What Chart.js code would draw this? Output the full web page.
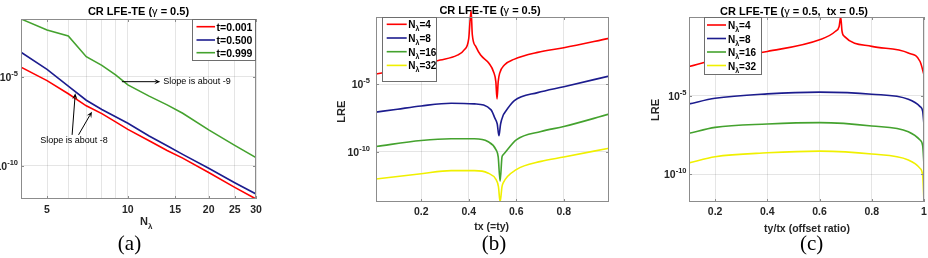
<!DOCTYPE html>
<html><head><meta charset="utf-8">
<script src="https://cdn.jsdelivr.net/npm/chart.js@4/dist/chart.umd.min.js"></script>
<style>
html,body{margin:0;padding:0;background:#fff;width:928px;height:258px;overflow:hidden}
canvas{position:absolute;top:0}
</style></head><body>
<canvas id="ca" width="310" height="258" style="left:0px"></canvas>
<canvas id="cb" width="310" height="258" style="left:310px"></canvas>
<canvas id="cc" width="310" height="258" style="left:618px"></canvas>
<script>
// ---------------- DATA ----------------
// Panel (a): LRE vs N_lambda (log-log)
const A_N    = [4, 5, 6, 7, 8, 9, 10, 12, 14, 16, 20, 25, 30];
const A_T001 = [3.39e-5, 6.03e-6, 1.10e-6, 2.34e-7, 8.51e-8, 2.95e-8, 1.12e-8, 2.57e-9, 7.41e-10, 2.75e-10, 4.27e-11, 6.31e-12, 1.41e-12];
const A_T500 = [2.34e-4, 2.57e-5, 2.95e-6, 4.79e-7, 1.45e-7, 5.75e-8, 2.45e-8, 4.79e-9, 1.35e-9, 4.47e-10, 7.41e-11, 1.15e-11, 2.69e-12];
const A_T999 = [1.70e-2, 4.07e-3, 1.91e-3, 1.32e-4, 4.27e-5, 1.26e-5, 3.47e-6, 8.13e-7, 2.63e-7, 8.91e-8, 1.05e-8, 1.41e-9, 2.95e-10];
const A_LABELS = ['t=0.001', 't=0.500', 't=0.999'];
const A_XTICKS = [5, 10, 15, 20, 25, 30];
const A_XGRID  = [5, 6, 7, 8, 9, 10, 15, 20, 25, 30];

// Panel (b): LRE vs tx (=ty)
const B_X4  = [0.01, 0.14, 0.28, 0.35, 0.38, 0.40, 0.41, 0.415, 0.43, 0.45, 0.485, 0.505, 0.514, 0.519, 0.524, 0.53, 0.55, 0.59, 0.69, 0.80, 0.99];
const B_N4  = [5.75e-5, 1.55e-4, 6.31e-4, 1.41e-3, 3.47e-3, 2.51e-2, 3.16, 5.01e-2, 6.31e-3, 1.48e-3, 3.63e-4, 7.94e-5, 1.58e-5, 8.13e-7, 1.58e-5, 6.46e-5, 2.69e-4, 7.08e-4, 2.34e-3, 5.13e-3, 2.57e-2];
const B_X8  = [0.01, 0.1, 0.2, 0.326, 0.424, 0.494, 0.51, 0.52, 0.527, 0.534, 0.545, 0.55, 0.592, 0.69, 0.80, 0.99];
const B_N8  = [8.51e-8, 1.41e-7, 2.45e-7, 3.89e-7, 3.47e-7, 1.26e-7, 3.02e-8, 1.12e-8, 1.48e-9, 1.12e-8, 5.01e-8, 7.08e-8, 6.03e-7, 2.40e-6, 6.61e-6, 4.07e-5];
const B_X16 = [0.01, 0.2, 0.326, 0.424, 0.48, 0.515, 0.524, 0.532, 0.54, 0.545, 0.6, 0.704, 0.8, 0.99];
const B_N16 = [2.40e-10, 6.61e-10, 8.91e-10, 8.91e-10, 5.62e-10, 1.35e-10, 3.98e-11, 6.31e-13, 3.98e-11, 5.75e-11, 7.41e-10, 3.09e-9, 7.24e-9, 6.03e-8];
const B_X32 = [0.01, 0.2, 0.326, 0.424, 0.48, 0.515, 0.525, 0.532, 0.54, 0.545, 0.6, 0.704, 0.8, 0.99];
const B_N32 = [9.12e-13, 2.24e-12, 3.80e-12, 3.80e-12, 2.57e-12, 8.13e-13, 2.51e-13, 1.78e-14, 2.51e-13, 4.68e-13, 4.47e-12, 1.86e-11, 3.89e-11, 1.78e-10];
const B_XTICKS = [0.2, 0.4, 0.6, 0.8];

// Panel (c): LRE vs ty/tx
const C_X4  = [0.1, 0.2, 0.4, 0.6, 0.66, 0.675, 0.681, 0.686, 0.695, 0.8, 0.94, 0.985, 1.0];
const C_N4  = [7.08e-4, 1.91e-3, 6.46e-3, 3.55e-2, 0.120, 0.251, 1.0, 0.126, 5.89e-2, 1.35e-2, 5.13e-3, 1.48e-3, 2.09e-4];
const C_X   = [0.1, 0.2, 0.4, 0.6, 0.8, 0.94, 0.985, 0.995, 1.0];
const C_N8  = [2.95e-6, 6.76e-6, 1.29e-5, 1.66e-5, 1.23e-5, 5.89e-6, 2.00e-6, 1.0e-6, 1.35e-7];
const C_N16 = [3.98e-8, 9.55e-8, 1.55e-7, 1.91e-7, 1.17e-7, 5.01e-8, 1.48e-8, 6.31e-9, 3.80e-10];
const C_N32 = [5.25e-10, 1.29e-9, 2.29e-9, 2.95e-9, 1.91e-9, 7.94e-10, 2.34e-10, 7.94e-11, 1.70e-12];
const C_XTICKS = [0.2, 0.4, 0.6, 0.8, 1];

const N_LABELS = ['4', '8', '16', '32'];
const Y_TICKS = [1e-10, 1e-5];

// ---------------- STYLE ----------------
const FONT = '"Liberation Sans", Arial, sans-serif';
const SERIF = '"Liberation Serif", "Times New Roman", serif';
const RED = '#ff0000', BLUE = '#1c1c8e', GREEN = '#44a22e', YELLOW = '#f0f000';
const AXIS_COL = '#8c8c8c';
const GRID_COL = 'rgba(0,0,0,0.10)';
const LW = 1.6;

function pts(xs, ys) { return xs.map((x, i) => ({x: x, y: ys[i]})); }

function rich(ctx, parts, x, y, align) {
  let w = 0;
  parts.forEach(p => { ctx.font = (p.bold ? 'bold ' : '') + p.size + 'px ' + FONT; p.w = ctx.measureText(p.t).width; w += p.w; });
  let cx = align === 'right' ? x - w : (align === 'center' ? x - w / 2 : x);
  ctx.textAlign = 'left'; ctx.textBaseline = 'alphabetic';
  parts.forEach(p => { ctx.font = (p.bold ? 'bold ' : '') + p.size + 'px ' + FONT; ctx.fillText(p.t, cx, y + (p.dy || 0)); cx += p.w; });
}

function arrow(ctx, x1, y1, x2, y2) {
  const ang = Math.atan2(y2 - y1, x2 - x1), L = 6, W = 2.6;
  ctx.beginPath(); ctx.moveTo(x1, y1); ctx.lineTo(x2 - L * 0.7 * Math.cos(ang), y2 - L * 0.7 * Math.sin(ang)); ctx.stroke();
  ctx.beginPath();
  ctx.moveTo(x2, y2);
  ctx.lineTo(x2 - L * Math.cos(ang) + W * Math.sin(ang), y2 - L * Math.sin(ang) - W * Math.cos(ang));
  ctx.lineTo(x2 - L * 0.6 * Math.cos(ang), y2 - L * 0.6 * Math.sin(ang));
  ctx.lineTo(x2 - L * Math.cos(ang) - W * Math.sin(ang), y2 - L * Math.sin(ang) + W * Math.cos(ang));
  ctx.closePath(); ctx.fill();
}

function decoPlugin(P) {
  return {
    id: 'deco',
    afterDraw(chart) {
      const ctx = chart.ctx, a = chart.chartArea, xs = chart.scales.x, ys = chart.scales.y;
      ctx.save();
      ctx.strokeStyle = AXIS_COL; ctx.lineWidth = 1;
      ctx.strokeRect(a.left + 0.5, a.top + 0.5, a.right - a.left - 1, a.bottom - a.top - 1);
      ctx.beginPath();
      P.xticks.forEach(v => { const px = Math.round(xs.getPixelForValue(v)) + 0.5;
        ctx.moveTo(px, a.bottom); ctx.lineTo(px, a.bottom - 3); ctx.moveTo(px, a.top); ctx.lineTo(px, a.top + 3); });
      Y_TICKS.forEach(v => { const py = Math.round(ys.getPixelForValue(v)) + 0.5;
        ctx.moveTo(a.left, py); ctx.lineTo(a.left + 3, py); ctx.moveTo(a.right, py); ctx.lineTo(a.right - 3, py); });
      ctx.stroke();
      ctx.fillStyle = '#262626';
      Y_TICKS.forEach(v => {
        const py = ys.getPixelForValue(v);
        const e = String(Math.round(Math.log10(v)));
        rich(ctx, [{t: '10', size: 10.5, bold: true, dy: 0}, {t: e, size: 7.5, bold: true, dy: -5}], P.ytickRight, py + 4, 'right');
      });
      ctx.textAlign = 'center'; ctx.textBaseline = 'middle';
      ctx.font = 'bold 10.5px ' + FONT;
      P.xticks.forEach(v => ctx.fillText(String(v), xs.getPixelForValue(v), a.bottom + P.xtickDy));
      if (P.xtitleParts) rich(ctx, P.xtitleParts, P.xtitle[0], P.xtitle[1], P.xtitle[2]);
      if (P.ytitle) {
        ctx.save(); ctx.translate(P.ytitle[0], P.ytitle[1]); ctx.rotate(-Math.PI / 2);
        ctx.font = 'bold 11px ' + FONT; ctx.textAlign = 'center'; ctx.textBaseline = 'middle';
        ctx.fillText('LRE', 0, 0); ctx.restore();
      }
      ctx.fillStyle = '#000';
      rich(ctx, [{t: 'CR LFE-TE (', size: 11, bold: true}, {t: 'γ', size: 11, bold: false}, {t: P.titleTail, size: 11, bold: true}], P.title[0], P.title[1], 'center');
      ctx.font = '21px ' + SERIF; ctx.textAlign = 'center'; ctx.textBaseline = 'middle';
      ctx.fillText(P.caption, P.cap[0], P.cap[1]);
      const L = P.legend;
      ctx.fillStyle = '#fff'; ctx.fillRect(L.x, L.y, L.w, L.h);
      ctx.strokeStyle = '#6e6e6e'; ctx.lineWidth = 1;
      ctx.strokeRect(L.x + 0.5, L.y + 0.5, L.w - 1, L.h - 1);
      chart.data.datasets.forEach((ds, i) => {
        const ry = L.rows[i];
        ctx.strokeStyle = ds.borderColor; ctx.lineWidth = LW;
        ctx.beginPath(); ctx.moveTo(L.lx0, ry); ctx.lineTo(L.lx1, ry); ctx.stroke();
        ctx.fillStyle = '#000';
        rich(ctx, L.parts(i), L.tx, ry + 4, 'left');
      });
      if (P.extra) P.extra(ctx, xs, ys);
      ctx.restore();
    }
  };
}

function makeChart(id, P) {
  return new Chart(document.getElementById(id), {
    type: 'line',
    data: {datasets: P.datasets.map(d => ({
      label: d.label, data: d.data, borderColor: d.color, backgroundColor: d.color,
      borderWidth: LW, pointRadius: 0, tension: 0, fill: false,
      cubicInterpolationMode: P.smooth ? 'monotone' : 'default',
      clip: d.clip === undefined ? true : d.clip
    }))},
    options: {
      responsive: false, animation: false, devicePixelRatio: 1,
      layout: {padding: P.padding},
      plugins: {legend: {display: false}, title: {display: false}, tooltip: {enabled: false}},
      scales: {
        x: {type: P.xtype, min: P.xmin, max: P.xmax,
            afterBuildTicks: s => { s.ticks = P.xgrid.map(v => ({value: v})); },
            ticks: {display: false}, grid: {color: GRID_COL, drawTicks: false}, border: {display: false}},
        y: {type: 'logarithmic', min: P.ymin, max: P.ymax,
            afterBuildTicks: s => { s.ticks = Y_TICKS.map(v => ({value: v})); },
            ticks: {display: false}, grid: {color: GRID_COL, drawTicks: false}, border: {display: false}}
      }
    },
    plugins: [decoPlugin(P)]
  });
}

const nParts = i => [{t: 'N', size: 10, bold: true}, {t: 'λ', size: 7, bold: true, dy: 3}, {t: '=' + N_LABELS[i], size: 10, bold: true}];

// Panel (a)
makeChart('ca', {
  xtype: 'logarithmic', xmin: 4, xmax: 30, ymin: 1.41e-12, ymax: 1.70e-2, smooth: false,
  xgrid: A_XGRID, xticks: A_XTICKS,
  padding: {left: 21, top: 19, right: 54, bottom: 59},
  datasets: [
    {label: A_LABELS[0], data: pts(A_N, A_T001), color: RED},
    {label: A_LABELS[1], data: pts(A_N, A_T500), color: BLUE},
    {label: A_LABELS[2], data: pts(A_N, A_T999), color: GREEN}
  ],
  ytickRight: 18, xtickDy: 11,
  xtitleParts: [{t: 'N', size: 11, bold: true}, {t: 'λ', size: 8, bold: true, dy: 4}], xtitle: [140, 225, 'left'],
  ytitle: null,
  title: [138.5, 15], titleTail: ' = 0.5)',
  caption: '(a)', cap: [129.5, 244],
  legend: {x: 192, y: 19, w: 64, h: 42, rows: [26.7, 40, 52.7], lx0: 196.5, lx1: 215, tx: 216.5,
           parts: i => [{t: A_LABELS[i], size: 10.5, bold: true}]},
  extra: (ctx, xs, ys) => {
    ctx.strokeStyle = '#000'; ctx.fillStyle = '#000'; ctx.lineWidth = 1;
    const P = (n, v) => [xs.getPixelForValue(n), ys.getPixelForValue(v)];
    let p1 = P(9.5, 5.25e-6), p2 = P(13.2, 5.25e-6);
    arrow(ctx, p1[0], p1[1], p2[0], p2[1]);
    ctx.font = '9px ' + FONT; ctx.textAlign = 'left'; ctx.textBaseline = 'middle';
    ctx.fillText('Slope is about -9', p2[0] + 3, p2[1]);
    let q1 = P(6.2, 5.5e-9), q2 = P(6.37, 1.17e-6);
    arrow(ctx, q1[0], q1[1], q2[0], q2[1]);
    let r1 = P(6.55, 5.5e-9), r2 = P(7.35, 1.1e-7);
    arrow(ctx, r1[0], r1[1], r2[0], r2[1]);
    const t = P(6.3, 2.5e-9);
    ctx.textAlign = 'center';
    ctx.fillText('Slope is about -8', t[0], t[1]);
  }
});

// Panel (b)
makeChart('cb', {
  xtype: 'linear', xmin: 0.01, xmax: 0.99, ymin: 1.78e-14, ymax: 1.0, smooth: true,
  xgrid: B_XTICKS, xticks: B_XTICKS,
  padding: {left: 66, top: 17, right: 11, bottom: 56},
  datasets: [
    {label: 'N4', data: pts(B_X4, B_N4), color: RED, clip: false},
    {label: 'N8', data: pts(B_X8, B_N8), color: BLUE},
    {label: 'N16', data: pts(B_X16, B_N16), color: GREEN},
    {label: 'N32', data: pts(B_X32, B_N32), color: YELLOW}
  ],
  ytickRight: 60, xtickDy: 10.5,
  xtitleParts: [{t: 'tx (=ty)', size: 10.5, bold: true}], xtitle: [181.7, 230, 'center'],
  ytitle: [31.7, 111.7],
  title: [180, 14], titleTail: ' = 0.5)',
  caption: '(b)', cap: [184, 244],
  legend: {x: 72, y: 17, w: 55, h: 65, rows: [24.3, 38, 51.7, 65.4], lx0: 76.7, lx1: 96.7, tx: 98.3, parts: nParts}
});

// Panel (c)
makeChart('cc', {
  xtype: 'linear', xmin: 0.1, xmax: 1.0, ymin: 1.70e-12, ymax: 1.0, smooth: true,
  xgrid: C_XTICKS, xticks: C_XTICKS,
  padding: {left: 71, top: 17, right: 4, bottom: 56},
  datasets: [
    {label: 'N4', data: pts(C_X4, C_N4), color: RED},
    {label: 'N8', data: pts(C_X, C_N8), color: BLUE},
    {label: 'N16', data: pts(C_X, C_N16), color: GREEN},
    {label: 'N32', data: pts(C_X, C_N32), color: YELLOW}
  ],
  ytickRight: 68.5, xtickDy: 10.5,
  xtitleParts: [{t: 'ty/tx (offset ratio)', size: 10.5, bold: true}], xtitle: [189, 231.5, 'center'],
  ytitle: [38, 110],
  title: [176, 14.5], titleTail: ' = 0.5,  tx = 0.5)',
  caption: '(c)', cap: [193.7, 244],
  legend: {x: 86, y: 17, w: 58, h: 58, rows: [25, 38.5, 52, 65.5], lx0: 89, lx1: 108, tx: 110, parts: nParts}
});
</script>
</body></html>
